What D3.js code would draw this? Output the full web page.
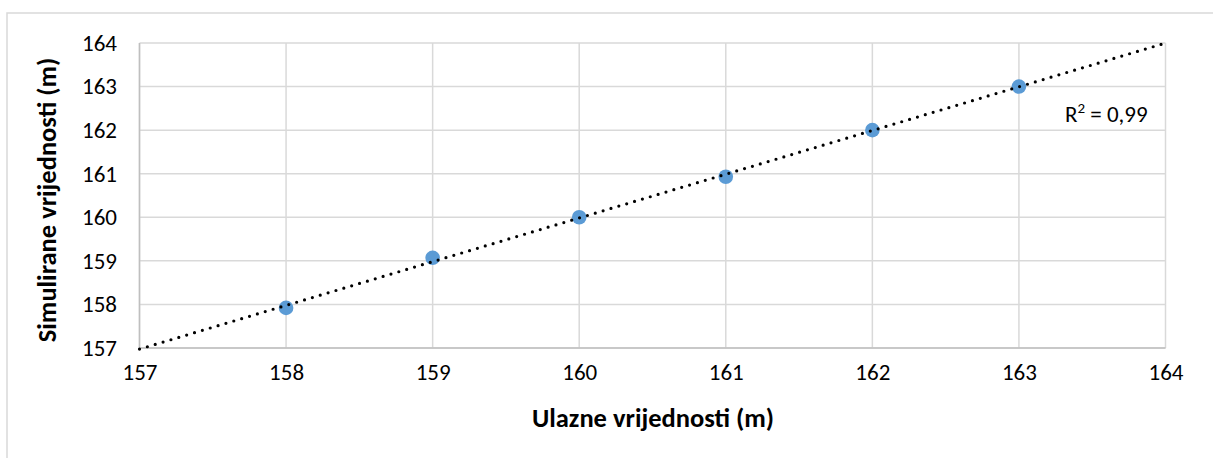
<!DOCTYPE html>
<html>
<head>
<meta charset="utf-8">
<script src="https://cdn.jsdelivr.net/npm/d3@7"></script>
<style>
  html, body { margin: 0; padding: 0; background: #fff; }
  svg { display: block; }
  text { font-family: Carlito, "Open Sans", sans-serif; fill: #000; }
</style>
</head>
<body>
<svg id="chart" width="1213" height="458"></svg>
<script>
// Input (measured) vs simulated water levels, metres
const inputValues = [158, 159, 160, 161, 162, 163];
const simulatedValues = [157.92, 159.07, 160.0, 160.93, 162.0, 163.0];
const xTicks = [157, 158, 159, 160, 161, 162, 163, 164];
const yTicks = [157, 158, 159, 160, 161, 162, 163, 164];
const xTitle = "Ulazne vrijednosti (m)";
const yTitle = "Simulirane vrijednosti (m)";
const r2Label = "0,99";

const FONT = "Carlito, 'Open Sans', sans-serif";
const TICK_SIZE = 23, TITLE_SIZE = 26.5;
const svg = d3.select("#chart");
const W = 1213, H = 458;
const plot = { left: 139.5, right: 1165.5, top: 43, bottom: 348 };

// Outer chart frame
svg.append("rect")
  .attr("x", 7).attr("y", 13)
  .attr("width", W + 10).attr("height", H + 10)
  .attr("fill", "#fff").attr("stroke", "#d9d9d9").attr("stroke-width", 1.5);

const x = d3.scaleLinear().domain([157, 164]).range([plot.left, plot.right]);
const y = d3.scaleLinear().domain([157, 164]).range([plot.bottom, plot.top]);

// Gridlines
const grid = svg.append("g");
grid.selectAll(".gx").data(xTicks).join("line")
  .attr("x1", d => x(d)).attr("x2", d => x(d))
  .attr("y1", plot.top).attr("y2", plot.bottom)
  .attr("stroke", "#d9d9d9").attr("stroke-width", 1.5);
grid.selectAll(".gy").data(yTicks).join("line")
  .attr("x1", plot.left).attr("x2", plot.right)
  .attr("y1", d => y(d)).attr("y2", d => y(d))
  .attr("stroke", "#d9d9d9").attr("stroke-width", 1.5);

// Axes lines
svg.append("line")
  .attr("x1", plot.left).attr("x2", plot.right)
  .attr("y1", plot.bottom).attr("y2", plot.bottom)
  .attr("stroke", "#bfbfbf").attr("stroke-width", 1.5);
svg.append("line")
  .attr("x1", plot.left).attr("x2", plot.left)
  .attr("y1", plot.top).attr("y2", plot.bottom)
  .attr("stroke", "#bfbfbf").attr("stroke-width", 1.5);

// Tick labels via d3 axes (domain and tick marks hidden)
const xAxis = svg.append("g")
  .attr("transform", `translate(0,${plot.bottom})`)
  .call(d3.axisBottom(x).tickValues(xTicks).tickFormat(d3.format("d")).tickSize(0).tickPadding(16));
const yAxis = svg.append("g")
  .attr("transform", `translate(${plot.left},0)`)
  .call(d3.axisLeft(y).tickValues(yTicks).tickFormat(d3.format("d")).tickSize(0).tickPadding(22.5));
[xAxis, yAxis].forEach(a => {
  a.select(".domain").remove();
  a.selectAll("text").attr("font-size", TICK_SIZE).attr("fill", "#000")
    .style("font-family", FONT);
});

// Axis titles
svg.append("text")
  .attr("x", 653).attr("y", 427)
  .attr("text-anchor", "middle")
  .attr("font-size", TITLE_SIZE).attr("font-weight", "bold")
  .text(xTitle);
svg.append("text")
  .attr("transform", "translate(56,200) rotate(-90)")
  .attr("text-anchor", "middle")
  .attr("font-size", TITLE_SIZE).attr("font-weight", "bold")
  .text(yTitle);

// Linear least-squares trendline
const mx = d3.mean(inputValues), my = d3.mean(simulatedValues);
let sxy = 0, sxx = 0;
inputValues.forEach((xi, i) => { sxy += (xi - mx) * (simulatedValues[i] - my); sxx += (xi - mx) ** 2; });
const slope = sxy / sxx, intercept = my - slope * mx;
const trend = [157, 164].map(v => [v, intercept + slope * v]);

// Points
svg.append("g").selectAll("circle")
  .data(inputValues.map((v, i) => [v, simulatedValues[i]]))
  .join("circle")
  .attr("cx", d => x(d[0])).attr("cy", d => y(d[1]))
  .attr("r", 7.3)
  .attr("fill", "#5b9bd5");

svg.append("path")
  .datum(trend)
  .attr("d", d3.line().x(d => x(d[0])).y(d => y(d[1])))
  .attr("fill", "none")
  .attr("stroke", "#000")
  .attr("stroke-width", 3.2)
  .attr("stroke-linecap", "round")
  .attr("stroke-dasharray", "0 8.2");

// R² annotation
const r2 = svg.append("text")
  .attr("x", 1065).attr("y", 122)
  .attr("font-size", TICK_SIZE);
r2.append("tspan").text("R");
r2.append("tspan").attr("font-size", 15).attr("dy", -9).text("2");
r2.append("tspan").attr("dy", 9).text(" = " + r2Label);
</script>
</body>
</html>
